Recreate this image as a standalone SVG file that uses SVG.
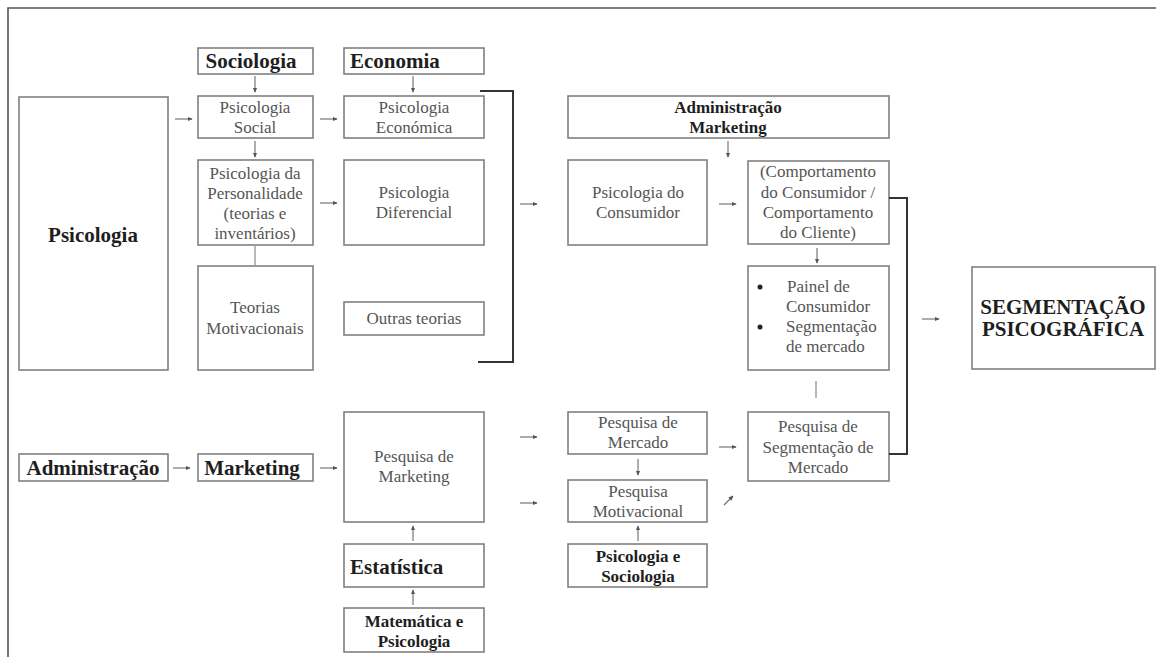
<svg xmlns="http://www.w3.org/2000/svg" width="1156" height="657" viewBox="0 0 1156 657">
  <defs>
    <style>
      .box { fill: #ffffff; stroke: #808080; stroke-width: 1.6; }
      .t { font-family: 'Liberation Serif', Tinos, 'Times New Roman', 'DejaVu Serif', serif; font-size: 17px; fill: #555555; text-anchor: middle; }
      .b { font-family: 'Liberation Serif', Tinos, 'Times New Roman', 'DejaVu Serif', serif; font-weight: bold; font-size: 17px; fill: #1e1e1e; text-anchor: middle; }
      .bl { font-size: 21px; }
      .arr { stroke: #6a6a6a; stroke-width: 1.1; fill: none; marker-end: url(#head); }
      .ln { stroke: #9a9a9a; stroke-width: 1.4; fill: none; }
      .brk { stroke: #333333; stroke-width: 2; fill: none; }
      .frame { stroke: #555555; stroke-width: 1.6; fill: none; }
    </style>
    <marker id="head" viewBox="0 0 8 8" refX="7" refY="4" markerWidth="5" markerHeight="5" orient="auto" markerUnits="userSpaceOnUse">
      <path d="M0,0.5 L8,4 L0,7.5 Z" fill="#555555"/>
    </marker>
  </defs>

  <!-- page frame -->
  <path class="frame" d="M1156,8 H8 V657"/>

  <g font-family="Liberation Serif, Tinos, Times New Roman, DejaVu Serif, serif">
  <!-- first column -->
  <g id="psicologia">
    <rect class="box" x="19" y="97" width="149" height="273"/>
    <text class="b bl" x="93" y="242">Psicologia</text>
  </g>
  <g id="administracao">
    <rect class="box" x="19" y="454" width="149" height="27"/>
    <text class="b bl" x="93" y="475">Administração</text>
  </g>

  <!-- second column -->
  <g id="sociologia">
    <rect class="box" x="198" y="48" width="115" height="26"/>
    <text class="b bl" x="251" y="68">Sociologia</text>
  </g>
  <g id="psicologia-social">
    <rect class="box" x="198" y="96" width="115" height="42"/>
    <text class="t" x="255" y="113">Psicologia</text>
    <text class="t" x="255" y="133">Social</text>
  </g>
  <g id="psicologia-personalidade">
    <rect class="box" x="198" y="160" width="115" height="85"/>
    <text class="t" x="255" y="179">Psicologia da</text>
    <text class="t" x="255" y="199">Personalidade</text>
    <text class="t" x="255" y="219">(teorias e</text>
    <text class="t" x="255" y="239">inventários)</text>
  </g>
  <g id="teorias-motivacionais">
    <rect class="box" x="198" y="266" width="115" height="104"/>
    <text class="t" x="255" y="313">Teorias</text>
    <text class="t" x="255" y="334">Motivacionais</text>
  </g>
  <g id="marketing">
    <rect class="box" x="198" y="454" width="115" height="27"/>
    <text class="b bl" x="252" y="475">Marketing</text>
  </g>

  <!-- third column -->
  <g id="economia">
    <rect class="box" x="344" y="48" width="140" height="26"/>
    <text class="b bl" x="350" y="68" style="text-anchor:start">Economia</text>
  </g>
  <g id="psicologia-economica">
    <rect class="box" x="344" y="96" width="140" height="42"/>
    <text class="t" x="414" y="113">Psicologia</text>
    <text class="t" x="414" y="133">Económica</text>
  </g>
  <g id="psicologia-diferencial">
    <rect class="box" x="344" y="160" width="140" height="85"/>
    <text class="t" x="414" y="198">Psicologia</text>
    <text class="t" x="414" y="218">Diferencial</text>
  </g>
  <g id="outras-teorias">
    <rect class="box" x="344" y="302" width="140" height="33"/>
    <text class="t" x="414" y="324">Outras teorias</text>
  </g>
  <g id="pesquisa-marketing">
    <rect class="box" x="344" y="412" width="140" height="110"/>
    <text class="t" x="414" y="462">Pesquisa de</text>
    <text class="t" x="414" y="482">Marketing</text>
  </g>
  <g id="estatistica">
    <rect class="box" x="344" y="544" width="140" height="43"/>
    <text class="b bl" x="350" y="574" style="text-anchor:start">Estatística</text>
  </g>
  <g id="matematica-psicologia">
    <rect class="box" x="344" y="608" width="140" height="44"/>
    <text class="b" x="414" y="627">Matemática e</text>
    <text class="b" x="414" y="647">Psicologia</text>
  </g>

  <!-- fourth column -->
  <g id="administracao-marketing">
    <rect class="box" x="568" y="96" width="321" height="42"/>
    <text class="b" x="728" y="113">Administração</text>
    <text class="b" x="728" y="133">Marketing</text>
  </g>
  <g id="psicologia-consumidor">
    <rect class="box" x="568" y="160" width="139" height="85"/>
    <text class="t" x="638" y="198">Psicologia do</text>
    <text class="t" x="638" y="218">Consumidor</text>
  </g>
  <g id="pesquisa-mercado">
    <rect class="box" x="568" y="412" width="139" height="42"/>
    <text class="t" x="638" y="428">Pesquisa de</text>
    <text class="t" x="638" y="448">Mercado</text>
  </g>
  <g id="pesquisa-motivacional">
    <rect class="box" x="568" y="480" width="139" height="42"/>
    <text class="t" x="638" y="497">Pesquisa</text>
    <text class="t" x="638" y="517">Motivacional</text>
  </g>
  <g id="psicologia-sociologia">
    <rect class="box" x="568" y="544" width="139" height="43"/>
    <text class="b" x="638" y="562">Psicologia e</text>
    <text class="b" x="638" y="582">Sociologia</text>
  </g>

  <!-- fifth column -->
  <g id="comportamento">
    <rect class="box" x="748" y="161" width="141" height="83"/>
    <text class="t" x="818" y="177">(Comportamento</text>
    <text class="t" x="818" y="198">do Consumidor /</text>
    <text class="t" x="818" y="218">Comportamento</text>
    <text class="t" x="818" y="238">do Cliente)</text>
  </g>
  <g id="painel-segmentacao">
    <rect class="box" x="748" y="266" width="141" height="104"/>
    <circle cx="760" cy="287" r="2.5" fill="#222222"/>
    <circle cx="760" cy="327" r="2.5" fill="#222222"/>
    <text class="t" x="787" y="292" style="text-anchor:start">Painel de</text>
    <text class="t" x="786" y="312" style="text-anchor:start">Consumidor</text>
    <text class="t" x="786" y="332" style="text-anchor:start">Segmentação</text>
    <text class="t" x="786" y="352" style="text-anchor:start">de mercado</text>
  </g>
  <g id="pesquisa-segmentacao">
    <rect class="box" x="748" y="412" width="141" height="69"/>
    <text class="t" x="818" y="432">Pesquisa de</text>
    <text class="t" x="818" y="453">Segmentação de</text>
    <text class="t" x="818" y="473">Mercado</text>
  </g>

  <!-- result -->
  <g id="segmentacao-psicografica">
    <rect class="box" x="972" y="267" width="183" height="102"/>
    <text class="b bl" x="1063" y="314">SEGMENTAÇÃO</text>
    <text class="b bl" x="1063" y="336">PSICOGRÁFICA</text>
  </g>
  </g>

  <!-- connectors -->
  <g id="connectors">
    <path class="arr" d="M255,76 V92"/>
    <path class="arr" d="M255,141 V157"/>
    <path class="ln" d="M255,245 V266"/>
    <path class="arr" d="M175,119 H192"/>
    <path class="arr" d="M320,119 H337"/>
    <path class="arr" d="M320,203 H337"/>
    <path class="arr" d="M413,76 V92"/>
    <path class="brk" d="M480,91 H513 V362 H478"/>
    <path class="arr" d="M520,204 H537"/>
    <path class="arr" d="M728,141 V157"/>
    <path class="arr" d="M719,204 H736"/>
    <path class="arr" d="M817,248 V263"/>
    <path class="brk" d="M889,198 H907 V454 H889"/>
    <path class="arr" d="M922,319 H939"/>
    <path class="ln" d="M816,381 V398"/>
    <path class="arr" d="M173,468 H190"/>
    <path class="arr" d="M320,468 H337"/>
    <path class="arr" d="M520,437 H537"/>
    <path class="arr" d="M520,503 H537"/>
    <path class="arr" d="M638,459 V475"/>
    <path class="arr" d="M638,541 V526"/>
    <path class="arr" d="M413,541 V526"/>
    <path class="arr" d="M413,605 V590"/>
    <path class="arr" d="M719,447 H736"/>
    <path class="arr" d="M724,505 L733,496"/>
  </g>
</svg>
